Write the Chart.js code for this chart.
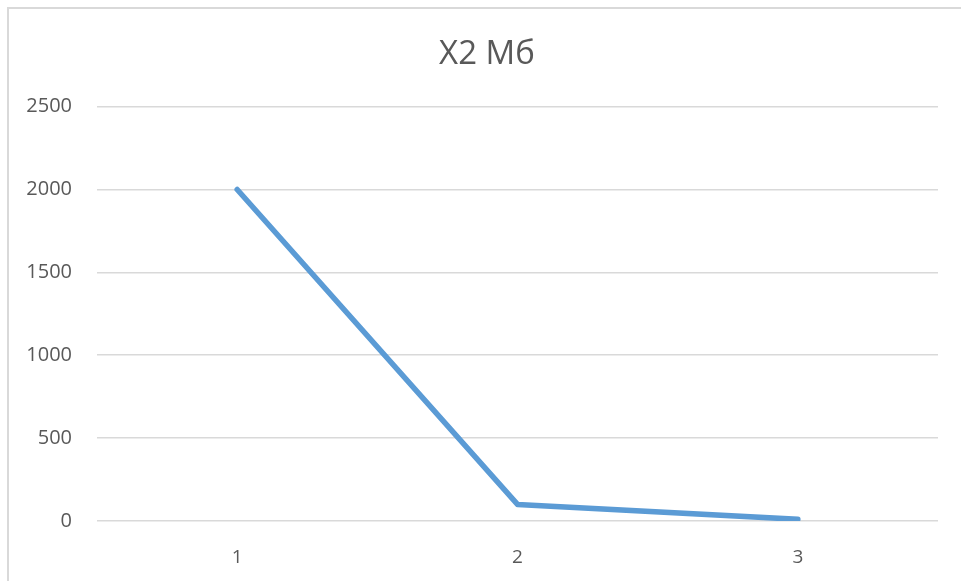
<!DOCTYPE html>
<html>
<head>
<meta charset="utf-8">
<script src="https://cdn.jsdelivr.net/npm/chart.js@4/dist/chart.umd.min.js"></script>
<style>
  html, body { margin: 0; padding: 0; background: #ffffff; }
  #wrap { position: relative; width: 961px; height: 581px; overflow: hidden; }
  #frame { position: absolute; left: 7px; top: 7px; right: -2px; bottom: -2px;
           border-left: 2px solid #d9d9d9; border-top: 2px solid #d9d9d9; }
  canvas { position: absolute; left: 0; top: 0; }
</style>
</head>
<body>
<div id="wrap">
  <div id="frame"></div>
  <canvas id="chart" width="961" height="581"></canvas>
</div>
<script>
const categories = ['1', '2', '3'];
const seriesValues = [2000, 100, 10];
const yTicks = [0, 500, 1000, 1500, 2000, 2500];
const chartTitle = 'X2 Мб';

const textColor = '#595959';
const gridColor = '#d9d9d9';

new Chart(document.getElementById('chart'), {
  type: 'line',
  data: {
    labels: categories,
    datasets: [{
      label: chartTitle,
      data: seriesValues,
      borderColor: '#5b9bd5',
      borderWidth: 5.5,
      borderCapStyle: 'round',
      borderJoinStyle: 'round',
      pointRadius: 0,
      fill: false,
      tension: 0
    }]
  },
  options: {
    responsive: false,
    animation: false,
    layout: { padding: { left: 13, right: 0, top: 0, bottom: 0 } },
    plugins: {
      legend: { display: false },
      tooltip: { enabled: false },
      title: {
        display: true,
        text: chartTitle,
        color: textColor,
        font: { family: '"Open Sans", sans-serif', size: 33, weight: 'normal' },
        padding: { top: 35, bottom: 32 }
      }
    },
    scales: {
      x: {
        offset: true,
        grid: { display: false, drawTicks: false },
        border: { display: false },
        ticks: {
          color: textColor,
          font: { family: '"Open Sans", sans-serif', size: 19 },
          padding: 25
        },
        afterFit: s => { s.height = 60; }
      },
      y: {
        min: 0,
        max: 2500,
        afterBuildTicks: s => { s.ticks = yTicks.map(v => ({ value: v })); },
        grid: { color: gridColor, lineWidth: 1.5, drawTicks: false },
        border: { display: false },
        ticks: {
          color: textColor,
          font: { family: '"Open Sans", sans-serif', size: 20 },
          padding: 25,
          callback: v => String(v)
        },
        afterFit: s => { s.width = 84; }
      },
      // empty right-hand margin beside the plot
      yRight: {
        position: 'right',
        grid: { display: false, drawTicks: false },
        border: { display: false },
        ticks: { display: false },
        afterFit: s => { s.width = 23; }
      }
    }
  }
});
</script>
</body>
</html>
